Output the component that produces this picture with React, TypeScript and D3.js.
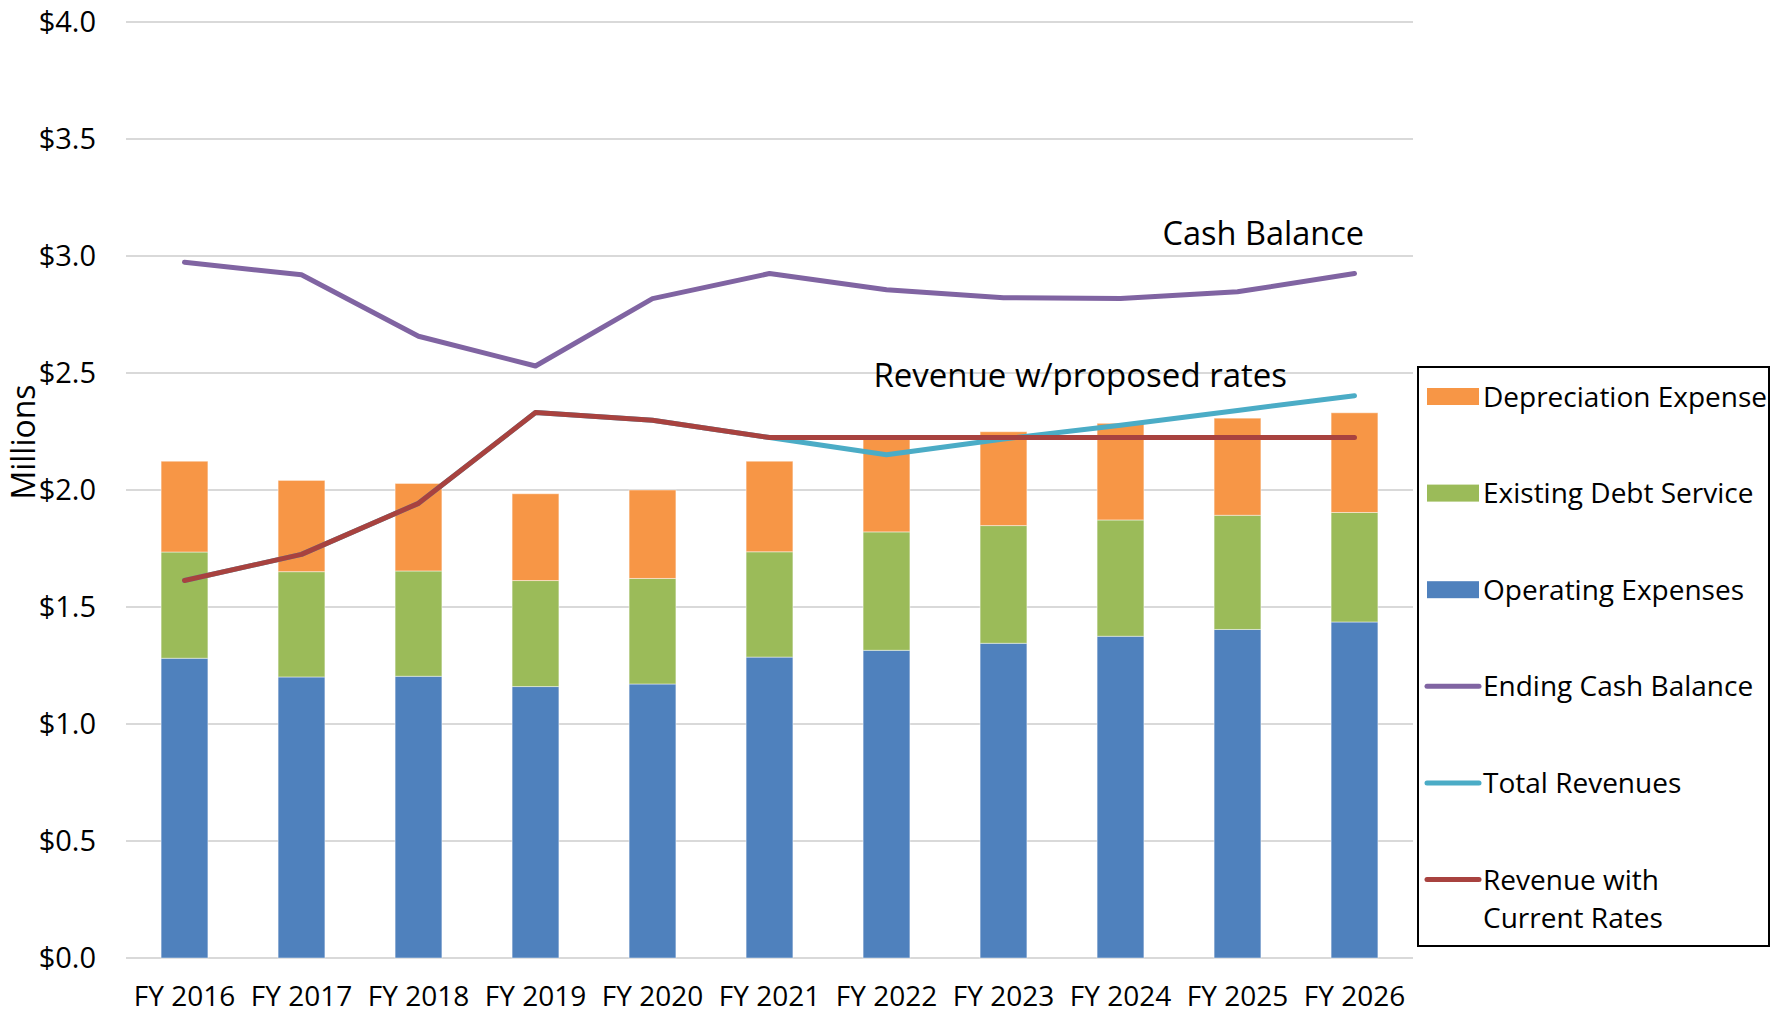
import React from "react";
import * as d3 from "d3";

const categories = ["FY 2016", "FY 2017", "FY 2018", "FY 2019", "FY 2020", "FY 2021", "FY 2022", "FY 2023", "FY 2024", "FY 2025", "FY 2026"];
const operatingExpenses = [1.281, 1.201, 1.204, 1.160, 1.171, 1.286, 1.315, 1.345, 1.375, 1.404, 1.436];
const existingDebtService = [0.454, 0.450, 0.450, 0.453, 0.451, 0.450, 0.506, 0.503, 0.497, 0.488, 0.468];
const depreciationExpense = [0.388, 0.390, 0.374, 0.371, 0.378, 0.387, 0.404, 0.401, 0.413, 0.415, 0.426];
const endingCashBalance = [2.973, 2.920, 2.657, 2.530, 2.818, 2.925, 2.856, 2.822, 2.818, 2.847, 2.925];
const totalRevenues = [1.613, 1.725, 1.943, 2.331, 2.298, 2.224, 2.151, 2.218, 2.277, 2.340, 2.403];
const revenueCurrentRates = [1.613, 1.725, 1.943, 2.331, 2.298, 2.224, 2.224, 2.224, 2.224, 2.224, 2.224];
const yTicks = [0, 0.5, 1.0, 1.5, 2.0, 2.5, 3.0, 3.5, 4.0];

const W = 1786;
const H = 1015;
const FONT = "'Open Sans', sans-serif";

const C_ORANGE = "#F79646";
const C_GREEN = "#9BBB59";
const C_BLUE = "#4F81BD";
const C_PURPLE = "#8064A2";
const C_CYAN = "#4BACC6";
const C_RED = "#A8423F";

export default function App() {
  const x = d3.scaleBand<string>().domain(categories).range([126, 1413]).paddingInner(0.6).paddingOuter(0.3);
  const y = d3.scaleLinear().domain([0, 4]).range([958, 22]);
  const bw = x.bandwidth();
  const cx = (i: number) => (x(categories[i]) as number) + bw / 2;

  const stackData = categories.map((c, i) => ({
    cat: c,
    op: operatingExpenses[i],
    debt: existingDebtService[i],
    dep: depreciationExpense[i],
  }));
  const stack = d3.stack<any>().keys(["op", "debt", "dep"]);
  const series = stack(stackData);
  const colors: Record<string, string> = { op: C_BLUE, debt: C_GREEN, dep: C_ORANGE };

  const line = d3
    .line<number>()
    .x((_, i) => cx(i))
    .y((d) => y(d));

  const legendItems = [
    { type: "rect", color: C_ORANGE, label: ["Depreciation Expense"] },
    { type: "rect", color: C_GREEN, label: ["Existing Debt Service"] },
    { type: "rect", color: C_BLUE, label: ["Operating Expenses"] },
    { type: "line", color: C_PURPLE, label: ["Ending Cash Balance"] },
    { type: "line", color: C_CYAN, label: ["Total Revenues"] },
    { type: "line", color: C_RED, label: ["Revenue with", "Current Rates"] },
  ];

  return (
    <div style={{ position: "fixed", left: 0, top: 0 }}>
      <svg width={W} height={H} style={{ display: "block", background: "#fff" }} fontFamily={FONT}>
        {yTicks.map((t) => (
          <line key={"g" + t} x1={126} x2={1413} y1={y(t)} y2={y(t)} stroke="#d9d9d9" strokeWidth={2} />
        ))}
        {yTicks.map((t) => (
          <text key={"yl" + t} x={96} y={y(t)} dy="0.36em" textAnchor="end" fontSize={29} fill="#000">
            {"$" + d3.format(".1f")(t)}
          </text>
        ))}
        <text transform={`translate(35,442) rotate(-90)`} textAnchor="middle" fontSize={32} fill="#000">
          Millions
        </text>
        {series.map((s) => (
          <g key={s.key} fill={colors[s.key]}>
            {s.map((d, i) => (
              <rect
                key={i}
                x={x(categories[i])}
                y={y(d[1])}
                width={bw}
                height={y(d[0]) - y(d[1])}
                stroke="#ffffff"
                strokeOpacity={0.45}
                strokeWidth={1}
              />
            ))}
          </g>
        ))}
        <path d={line(totalRevenues) || ""} fill="none" stroke={C_CYAN} strokeWidth={5} strokeLinejoin="round" strokeLinecap="round" />
        <path d={line(revenueCurrentRates) || ""} fill="none" stroke={C_RED} strokeWidth={5} strokeLinejoin="round" strokeLinecap="round" />
        <path d={line(endingCashBalance) || ""} fill="none" stroke={C_PURPLE} strokeWidth={5} strokeLinejoin="round" strokeLinecap="round" />
        {categories.map((c, i) => (
          <text key={"xl" + c} x={cx(i)} y={1006} textAnchor="middle" fontSize={28} fill="#000">
            {c}
          </text>
        ))}
        <text x={1364} y={245} textAnchor="end" fontSize={32.5} fill="#000">
          Cash Balance
        </text>
        <text x={1287} y={387} textAnchor="end" fontSize={33} fill="#000">
          Revenue w/proposed rates
        </text>
        <rect x={1418} y={367} width={351} height={579} fill="#fff" stroke="#000" strokeWidth={2} />
        {legendItems.map((it, i) => {
          const yc = 396.5 + i * 96.6;
          return (
            <g key={"lg" + i}>
              {it.type === "rect" ? (
                <rect x={1427} y={yc - 8.5} width={52} height={17} fill={it.color} />
              ) : (
                <line x1={1427} x2={1479} y1={yc} y2={yc} stroke={it.color} strokeWidth={5} strokeLinecap="round" />
              )}
              {it.label.map((l, j) => (
                <text key={j} x={1483} y={yc + j * 38.5} dy="0.36em" fontSize={28} fill="#000">
                  {l}
                </text>
              ))}
            </g>
          );
        })}
      </svg>
    </div>
  );
}
